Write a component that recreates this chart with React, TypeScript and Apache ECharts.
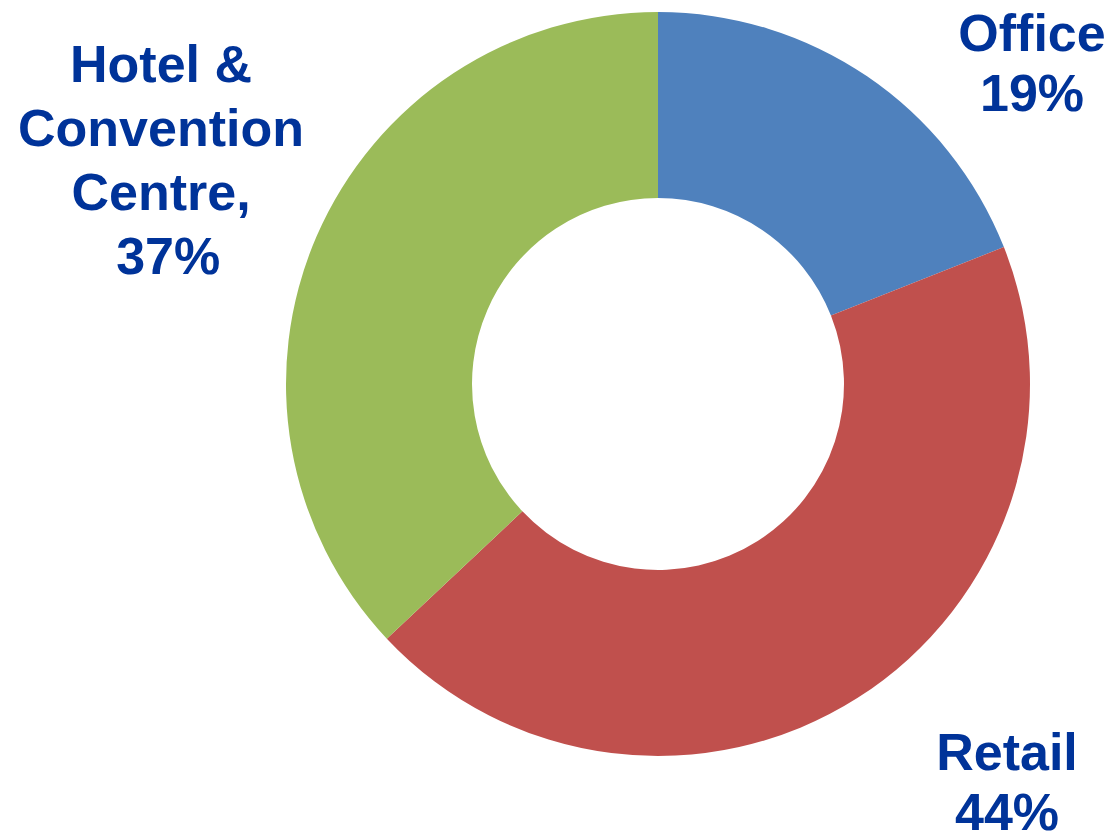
import React, { useEffect, useRef } from "react";
import * as echarts from "echarts";

const categories = ["Office", "Retail", "Hotel & Convention Centre"];
const values = [19, 44, 37];
const labelTexts = ["Office\n19%", "Retail\n44%", "Hotel &\nConvention\nCentre,\n 37%"];
const colors = ["#4F81BD", "#C0504D", "#9BBB59"];

const labelPos = [
  { x: 1032, y: 63, lh: 60 },
  { x: 1007, y: 782, lh: 60 },
  { x: 161, y: 160, lh: 64 },
];

export default function App() {
  const ref = useRef<HTMLDivElement>(null);
  useEffect(() => {
    document.body.style.margin = "0";
    const chart = echarts.init(ref.current!, null, { renderer: "svg" });
    chart.setOption({
      animation: false,
      backgroundColor: "#ffffff",
      series: [
        {
          type: "pie",
          center: [658, 384],
          radius: [186, 372],
          startAngle: 90,
          clockwise: true,
          avoidLabelOverlap: false,
          labelLine: { show: false },
          itemStyle: { borderWidth: 0 },
          label: {
            show: true,
            position: "outside",
            fontFamily: "'Liberation Sans', Arial, sans-serif",
            fontWeight: "bold",
            fontSize: 52,
            color: "#003399",
            align: "center",
            verticalAlign: "middle",
          },
          labelLayout: (params: any) => {
            const p = labelPos[params.dataIndex];
            return { x: p.x, y: p.y, align: "center", verticalAlign: "middle", hideOverlap: false };
          },
          data: categories.map((name, i) => ({
            name,
            value: values[i],
            itemStyle: { color: colors[i] },
            label: { formatter: labelTexts[i], lineHeight: labelPos[i].lh },
          })),
        },
      ],
    });
    return () => chart.dispose();
  }, []);
  return <div ref={ref} style={{ width: 1113, height: 835 }} />;
}
